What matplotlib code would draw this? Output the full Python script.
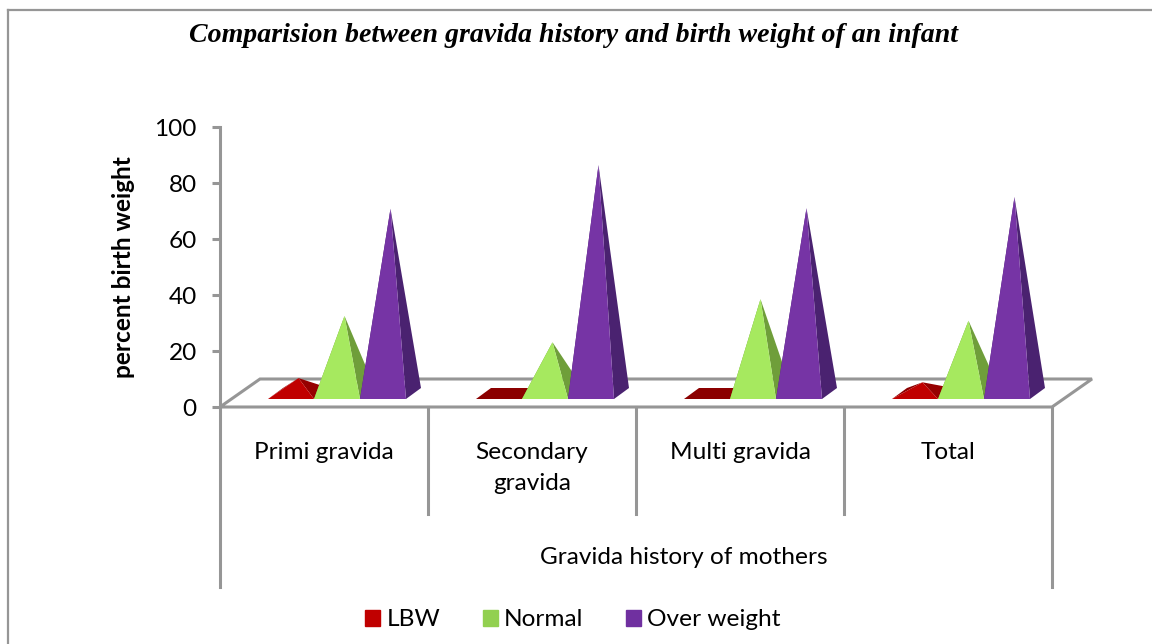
#!/usr/bin/env python3
"""Piramidi 3D finte: gravida history vs birth weight."""
import matplotlib
matplotlib.use("Agg")
import matplotlib.pyplot as plt
from matplotlib.patches import Patch, Polygon

categories = ["Primi gravida", "Secondary\ngravida", "Multi gravida", "Total"]
series = ["LBW", "Normal", "Over weight"]
lbw = [5.5, 0, 0, 4]
normal = [27.7, 18.3, 33.7, 26]
over_weight = [66, 81.6, 66.2, 70.2]

W, H = 1152, 644
GREY = "#969696"
FRONT = ["#c00000", "#a6e95f", "#7634a5"]
SIDE = ["#960000", "#6f9e3a", "#4a2270"]
LEFT = ["#8b0000", "#6f9e3a", "#4a2270"]
LEGEND = ["#c00000", "#92d050", "#7030a0"]

plt.rcParams.update({"font.family": ["Lato", "DejaVu Sans"], "font.size": 17.6})

fig = plt.figure(figsize=(W / 100, H / 100), dpi=100)
ax = fig.add_axes([220 / W, (H - 407) / H, 832 / W, 280 / H])
ax.set_xlim(0, 4)
ax.set_ylim(0, 100)
for s in ax.spines.values():
    s.set_visible(False)

# pixel -> unita' dati
ux = 4 / 832
uy = 100 / 280
LW = 2.2

# pavimento
fdx, fdy = 40 * ux, 28 * uy
ax.add_patch(Polygon([(0, 0), (fdx, fdy), (4 + fdx, fdy), (4, 0)], closed=True, fc="white",
                     ec=GREY, lw=LW, clip_on=False, zorder=1))

# piramidi
base = 8 * uy
dx, dy = 15 * ux, 11 * uy
w = 46 * ux
start = 48 * ux
for i, vals in enumerate(zip(lbw, normal, over_weight)):
    for j, v in enumerate(vals):
        x0 = i + start + j * w
        x1 = x0 + w
        top = (x0 + w / 2 + dx / 2, base + dy / 2 + v)
        z = 2 + j
        if v == 0:
            ax.add_patch(Polygon([(x0, base), (x1, base), (x1 + dx, base + dy), (x0 + dx, base + dy)],
                                 closed=True, fc=LEFT[j], ec="none", zorder=z, clip_on=False))
            continue
        ax.add_patch(Polygon([(x0, base), (x0 + dx, base + dy), top], closed=True, fc=LEFT[j],
                             ec="none", zorder=z, clip_on=False))
        ax.add_patch(Polygon([(x1, base), (x1 + dx, base + dy), top], closed=True, fc=SIDE[j],
                             ec="none", zorder=z, clip_on=False))
        ax.add_patch(Polygon([(x0, base), (x1, base), top], closed=True, fc=FRONT[j],
                             ec="none", zorder=z + 0.5, clip_on=False))

# asse y e separatori categorie
ax.set_yticks(range(0, 101, 20))
ax.tick_params(axis="y", length=5.5, width=LW, color=GREY, pad=11.3)
ax.set_ylabel("percent birth weight", fontweight="bold", labelpad=14)
ax.plot([0, 0], [0, 100], color=GREY, lw=LW, clip_on=False, zorder=1)
for x in range(5):
    bottom = 587 if x in (0, 4) else 514
    ax.plot([x, x], [0, (407 - bottom) * uy], color=GREY, lw=LW, clip_on=False, zorder=1)

ax.set_xticks([0.5, 1.5, 2.5, 3.5], categories, linespacing=1.6)
ax.tick_params(axis="x", length=0, pad=25)
for t in ax.get_xticklabels():
    t.set_verticalalignment("top")
ax.text(2.23, (407 - 558) * uy, "Gravida history of mothers", ha="center", va="center", clip_on=False)

fig.text(573.5 / W, 1 - 36 / H, "Comparision between gravida history and birth weight of an infant",
         family="Liberation Serif", fontweight="bold", style="italic", fontsize=20.1, ha="center", va="center")

handles = [Patch(color=c, label=s) for c, s in zip(LEGEND, series)]
fig.legend(handles=handles, ncol=3, loc="center", bbox_to_anchor=(573 / W, 1 - 620 / H), frameon=False,
           handlelength=0.62, handleheight=0.62, handletextpad=0.25, columnspacing=1.75, borderpad=0)

# cornice
fig.add_artist(plt.Line2D([7.5 / W, 7.5 / W], [0, 1 - 10 / H], color=GREY, lw=1.6))
fig.add_artist(plt.Line2D([7.5 / W, 1], [1 - 10 / H, 1 - 10 / H], color=GREY, lw=1.6))

fig.savefig("out.png", dpi=100)
